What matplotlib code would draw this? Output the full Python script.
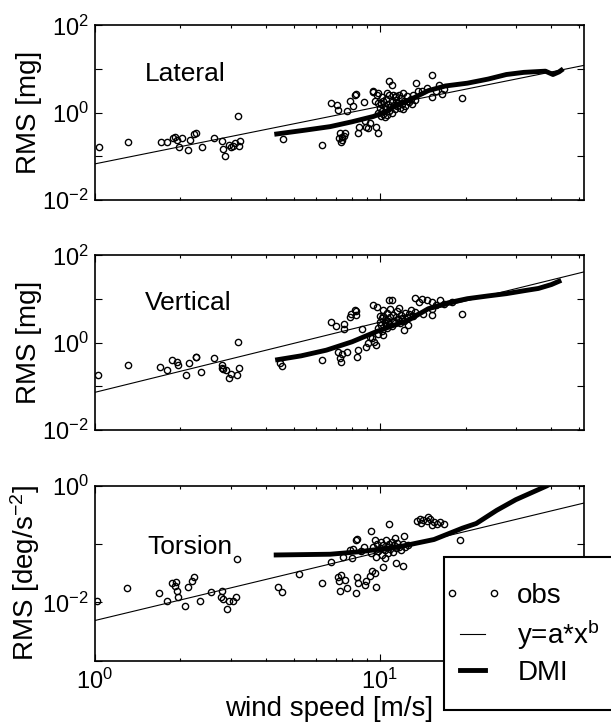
import numpy as np
import matplotlib.pyplot as plt
from matplotlib.lines import Line2D
from matplotlib.patches import Rectangle
from matplotlib.legend_handler import HandlerLine2D
from matplotlib.ticker import LogLocator, FuncFormatter, NullFormatter, NullLocator

plt.rcParams['font.family'] = ['Liberation Sans', 'DejaVu Sans']
plt.rcParams['mathtext.default'] = 'regular'
plt.rcParams['axes.linewidth'] = 1.2
plt.rcParams['axes.unicode_minus'] = False

# Lateral: observed RMS [mg] vs wind speed [m/s]
lat_obs_x = [1.04, 1.31, 1.71, 1.80, 1.88, 1.91, 1.94, 1.97, 2.03, 2.12, 2.16, 2.23, 2.27,
             2.38, 2.62, 2.80, 2.83, 2.87, 2.97, 3.01, 3.06, 3.11, 3.18, 3.22, 3.24,
             4.58, 6.30, 6.77, 7.09, 7.14, 7.24, 7.40, 7.20, 7.54, 7.36, 7.30, 7.52, 7.65,
             7.85, 8.24, 8.07, 8.47, 8.40, 8.86, 8.98, 9.22, 9.73, 9.87, 9.48, 9.87, 10.8,
             11.0, 13.4, 15.2, 13.6, 12.1, 9.6, 11.4, 16.2, 15.8, 8.19, 8.80, 9.08, 9.46,
             9.82, 14.1, 14.6, 15.3, 16.5, 16.8, 19.4, 12.6, 11.3,
             9.9, 10.0, 10.1, 10.1, 10.2, 10.3, 10.3, 10.4, 10.5, 10.5, 10.6, 10.7, 10.8,
             10.8, 10.9, 11.0, 11.0, 11.2, 11.3, 11.4, 11.5, 11.6, 11.8, 11.9, 12.0, 12.2,
             12.3, 12.5, 12.7, 12.9, 13.1, 13.3, 10.2, 10.6, 11.1, 9.9, 10.4, 12.1, 11.7, 13.0]
lat_obs_y = [0.16, 0.21, 0.21, 0.21, 0.27, 0.28, 0.24, 0.16, 0.26, 0.14, 0.24, 0.33, 0.35,
             0.16, 0.27, 0.23, 0.15, 0.10, 0.18, 0.16, 0.17, 0.20, 0.86, 0.17, 0.23,
             0.25, 0.18, 1.67, 1.47, 1.17, 0.34, 0.276, 0.26, 0.34, 0.24, 0.21, 0.30, 1.07,
             1.82, 2.69, 1.40, 0.48, 0.34, 0.63, 0.48, 0.58, 0.48, 0.35, 3.09, 2.84, 5.25,
             4.4, 4.8, 7.5, 3.1, 2.84, 1.82, 2.37, 4.4, 3.1, 2.48, 1.74, 0.45, 2.95,
             2.48, 3.2, 3.7, 2.27, 2.7, 3.5, 2.19, 1.90, 2.27,
             1.0, 1.3, 0.85, 1.6, 1.1, 1.9, 0.95, 1.4, 1.2, 2.1, 0.9, 1.6, 1.1,
             2.5, 1.35, 1.8, 1.0, 1.5, 1.2, 2.0, 1.4, 1.7, 1.3, 2.2, 1.6, 1.9,
             1.4, 2.4, 1.8, 2.1, 2.6, 2.0, 2.3, 2.8, 2.6, 1.7, 0.8, 1.2, 2.6, 1.6]
lat_dmi_x = [4.27, 5.5, 6.7, 8.0, 9.5, 10.5, 11.5, 12.6, 14.8, 17.0, 20.3, 24.0, 27.8,
             32.0, 38.1, 40.5, 42.5, 44.0]
lat_dmi_y = [0.32, 0.40, 0.48, 0.62, 0.82, 1.05, 1.55, 1.9, 3.2, 4.1, 4.75, 5.9, 7.5,
             8.4, 8.95, 7.5, 8.6, 10.1]
lat_fit = (0.067, 1.316)

# Vertical
ver_obs_x = [1.03, 1.31, 1.69, 1.80, 1.87, 1.94, 1.96, 2.10, 2.15, 2.26, 2.27, 2.36, 2.62,
             2.79, 2.81, 2.83, 2.90, 2.97, 3.01, 3.16, 3.21, 3.18,
             4.46, 4.55, 6.30, 6.73, 7.00, 7.50, 7.14, 7.38, 7.68, 7.34, 7.24, 7.96, 8.24,
             8.29, 7.85, 8.40, 8.33, 8.98, 9.10, 9.53, 9.73, 9.43, 10.3, 9.87, 9.48, 11.0,
             12.2, 14.2, 15.2, 7.52, 8.19, 8.66, 9.22, 9.82, 10.8, 13.3, 13.7, 14.1, 14.6,
             15.3, 15.8, 16.3, 15.3, 16.8, 17.9, 19.4, 10.5,
             9.9, 10.0, 10.1, 10.2, 10.2, 10.3, 10.4, 10.5, 10.6, 10.6, 10.7, 10.8, 10.9,
             11.0, 11.1, 11.2, 11.3, 11.4, 11.5, 11.6, 11.8, 11.9, 12.0, 12.2, 12.3, 12.5,
             12.7, 12.9, 13.1, 13.3, 10.3, 11.7, 12.6, 10.0, 10.9]
ver_obs_y = [0.18, 0.306, 0.28, 0.235, 0.41, 0.365, 0.306, 0.18, 0.334, 0.474, 0.46, 0.215,
             0.435, 0.306, 0.257, 0.25, 0.235, 0.152, 0.197, 0.18, 0.257, 1.04,
             0.334, 0.29, 0.40, 3.0, 2.43, 2.65, 0.60, 0.565, 0.62, 0.365, 0.457, 4.65, 5.25,
             4.25, 3.9, 0.675, 0.474, 0.80, 0.96, 1.04, 0.88, 1.31, 1.48, 1.62, 7.2, 9.35,
             1.93, 4.65, 6.0, 2.11, 5.5, 2.11, 1.36, 6.6, 9.7, 10.6, 8.6, 10.0, 9.35,
             8.6, 7.2, 9.35, 4.25, 7.85, 8.6, 4.65, 2.51,
             2.2, 3.0, 2.6, 3.6, 1.9, 4.2, 2.9, 3.4, 2.2, 4.8, 3.1, 2.7, 3.8,
             2.4, 4.3, 3.2, 2.8, 3.9, 5.2, 3.5, 2.9, 4.4, 3.7, 3.1, 4.9, 3.9,
             4.5, 5.6, 4.1, 5.0, 5.5, 6.2, 2.5, 4.0, 5.9]
ver_dmi_x = [4.3, 5.3, 6.5, 8.0, 9.7, 11.0, 12.6, 14.8, 17.5, 20.3, 24.0, 27.8, 32.6,
             36.0, 40.0, 43.3]
ver_dmi_y = [0.40, 0.50, 0.675, 1.05, 1.78, 2.4, 3.27, 6.0, 8.3, 10.2, 11.8, 13.3, 15.8,
             17.5, 21.5, 26.9]
ver_fit = (0.0726, 1.609)

# Torsion: observed RMS [deg/s^-2]
tor_obs_x = [1.02, 1.30, 1.68, 1.79, 1.87, 1.91, 1.93, 1.94, 1.96, 2.08, 2.12, 2.20, 2.23,
             2.34, 2.57, 2.79, 2.77, 2.83, 2.92, 2.97, 3.06, 3.14, 3.16,
             4.40, 4.55, 5.22, 6.25, 7.14, 7.34, 7.20, 7.54, 7.24, 7.65, 8.33, 8.40, 8.24,
             8.98, 8.86, 9.22, 9.60, 9.43, 9.73, 7.85, 8.07, 8.24, 8.35, 9.35, 10.8, 12.2,
             12.1, 11.4, 10.3, 19.1, 6.77, 7.44, 8.0,
             13.5, 13.8, 14.2, 14.6, 15.0, 15.5, 15.9, 16.3, 16.8, 14.0, 15.2, 14.8,
             9.3, 9.5, 9.7, 9.8, 9.9, 10.0, 10.1, 10.2, 10.3, 10.4, 10.5, 10.6, 10.7,
             10.8, 10.9, 11.0, 11.1, 11.2, 11.4, 11.5, 11.7, 11.9, 12.1, 12.3, 12.6, 10.4,
             9.6, 11.3, 8.6, 8.8]
tor_obs_y = [0.0107, 0.0176, 0.0143, 0.0107, 0.0212, 0.0193, 0.022, 0.0158, 0.0122, 0.0088,
             0.0181, 0.0235, 0.0268, 0.0107, 0.0148, 0.0158, 0.0122, 0.0114, 0.0077, 0.0107,
             0.0107, 0.0122, 0.0553,
             0.0185, 0.0152, 0.0302, 0.0212, 0.0275, 0.0294, 0.0232, 0.0241, 0.0156, 0.0174,
             0.0275, 0.0212, 0.0143, 0.0232, 0.0198, 0.0283, 0.0314, 0.0344, 0.0185, 0.0789,
             0.081, 0.117, 0.122, 0.167, 0.22, 0.137, 0.042, 0.0478, 0.0408, 0.117, 0.0497,
             0.0605, 0.058,
             0.251, 0.27, 0.26, 0.25, 0.27, 0.24, 0.22, 0.24, 0.22, 0.23, 0.21, 0.29,
             0.07, 0.09, 0.06, 0.1, 0.075, 0.085, 0.11, 0.065, 0.095, 0.078, 0.12, 0.088, 0.07,
             0.1, 0.083, 0.11, 0.074, 0.095, 0.085, 0.105, 0.09, 0.078, 0.1, 0.088, 0.095, 0.057,
             0.12, 0.125, 0.075, 0.09]
tor_dmi_x = [4.25, 6.7, 8.5, 11.7, 15.5, 19.5, 21.8, 25.7, 30.0, 38.5, 46.0]
tor_dmi_y = [0.065, 0.067, 0.074, 0.090, 0.12, 0.188, 0.226, 0.38, 0.58, 1.0, 1.6]
tor_fit = (0.00485, 1.177)

wind_range = (1, 52)


def main():
    '''Build the three stacked panels and save the figure.'''
    fig = plt.figure(figsize=(6.11, 7.26), dpi=100)

    left, width, height = 0.1547, 0.801, 0.2405
    ax1 = fig.add_axes([left, 0.7245, width, height])
    ax2 = fig.add_axes([left, 0.4077, width, height])
    ax3 = fig.add_axes([left, 0.0902, width, height])

    plot_panel(ax1, lat_obs_x, lat_obs_y, lat_fit, lat_dmi_x, lat_dmi_y,
               (1e-2, 1e2), 'Lateral', (1.5, 7.8), 'RMS [mg]')
    plot_panel(ax2, ver_obs_x, ver_obs_y, ver_fit, ver_dmi_x, ver_dmi_y,
               (1e-2, 1e2), 'Vertical', (1.5, 8.3), 'RMS [mg]')
    plot_panel(ax3, tor_obs_x, tor_obs_y, tor_fit, tor_dmi_x, tor_dmi_y,
               (1e-3, 1e0), 'Torsion', (1.53, 0.088), 'RMS [deg/s$^{-2}$]')

    # only the bottom panel carries x tick labels and the x label
    ax3.xaxis.set_major_formatter(FuncFormatter(lambda v, p: f'$10^{{{int(round(np.log10(v)))}}}$'))
    ax3.tick_params(axis='x', which='major', pad=6)
    ax3.set_xlabel('wind speed [m/s]', fontsize=20)
    ax3.xaxis.set_label_coords(0.479, -0.205)

    # legend sits in a white box that runs off the right edge of the figure
    box = Rectangle((444 / 611, 1 - 710 / 726), 200 / 611, (710 - 556.7) / 726,
                    transform=fig.transFigure, facecolor='white', edgecolor='black',
                    linewidth=1.5, zorder=4)
    fig.add_artist(box)
    obs_handle = Line2D([], [], ls='none', marker='o', mfc='none', mec='k', ms=4.5, mew=1)
    handles = [obs_handle,
               Line2D([], [], color='k', lw=0.8),
               Line2D([], [], color='k', lw=3.5)]
    fig.legend(handles, ['obs', 'y=a*x$^{b}$', 'DMI'], loc='upper left',
               bbox_to_anchor=(452 / 611, 1 - 583 / 726), frameon=False, fontsize=20,
               numpoints=2, handlelength=1.5, handletextpad=0.85, labelspacing=0.3,
               borderpad=0, borderaxespad=0,
               handler_map={obs_handle: HandlerLine2D(marker_pad=0)})

    fig.savefig('out.png', dpi=100)


def plot_panel(ax, obs_x, obs_y, fit, dmi_x, dmi_y, ylim, name, name_xy, ylabel):
    '''Draw observations, power-law fit and DMI curve on a log-log axis.'''
    a, b = fit
    x_fit = np.logspace(np.log10(wind_range[0]), np.log10(wind_range[1]), 200)

    ax.plot(obs_x, obs_y, 'o', mfc='none', mec='k', ms=4.5, mew=1)
    ax.plot(x_fit, a * x_fit ** b, color='k', lw=0.8)
    ax.plot(dmi_x, dmi_y, color='k', lw=3.5, solid_capstyle='butt')

    ax.set_xscale('log')
    ax.set_yscale('log')
    ax.set_xlim(*wind_range)
    ax.set_ylim(*ylim)

    ax.text(name_xy[0], name_xy[1], name, fontsize=19, ha='left', va='center')

    # MATLAB-like ticks: inward on all four sides, labels only on even decades
    ax.xaxis.set_major_locator(LogLocator(base=10))
    ax.xaxis.set_minor_locator(LogLocator(base=10, subs=np.arange(2, 10)))
    ax.xaxis.set_major_formatter(NullFormatter())
    ax.xaxis.set_minor_formatter(NullFormatter())
    ax.yaxis.set_major_locator(LogLocator(base=10, numticks=10))
    ax.yaxis.set_minor_locator(NullLocator())
    ax.yaxis.set_major_formatter(FuncFormatter(even_decade))
    ax.tick_params(which='both', direction='in', top=True, right=True,
                   labelsize=17, width=0.8)
    ax.tick_params(which='major', length=5, pad=4)
    ax.tick_params(which='minor', length=2.5)

    ax.set_ylabel(ylabel, fontsize=20)
    ax.yaxis.set_label_coords(-0.108, 0.5)


def even_decade(value, pos):
    '''Label 10^k only when k is even.'''
    k = int(round(np.log10(value)))
    return f'$10^{{{k}}}$' if k % 2 == 0 else ''


if __name__ == '__main__':
    main()
